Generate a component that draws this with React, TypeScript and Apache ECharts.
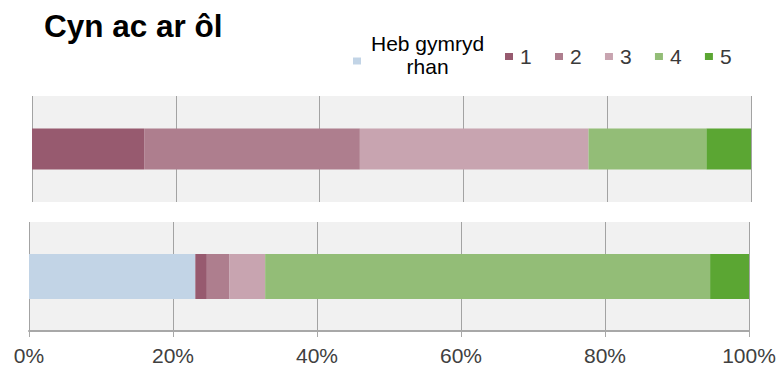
import React, { useEffect, useRef } from "react";
import * as echarts from "echarts";

// Survey levels: "did not take part" plus rating 1–5
const levels = ["Heb gymryd rhan", "1", "2", "3", "4", "5"];
// Two rows: before and after
const categories = ["Cyn", "Ar ôl"];
// Share of responses (%) per level
const beforeValues = [0, 15.6, 30.0, 31.8, 16.4, 6.2];
const afterValues = [23.1, 1.6, 3.1, 5.0, 61.8, 5.4];
// Percentage axis ticks
const tickValues = [0, 20, 40, 60, 80, 100];

const levelColors = ["#c2d4e6", "#975a6f", "#ae7e8e", "#c8a4b0", "#93bd77", "#5ba633"];

const FONT = '"Liberation Sans", Arial, sans-serif';

export default function App() {
  const ref = useRef<HTMLDivElement>(null);

  useEffect(() => {
    if (!ref.current) return;
    const chart = echarts.init(ref.current, undefined, { renderer: "svg" });

    const step = tickValues[1] - tickValues[0];
    const xMin = tickValues[0];
    const xMax = tickValues[tickValues.length - 1];
    const gridLine = { show: true, lineStyle: { color: "#a3a3a3", width: 1 } };

    const makeSeries = (values: number[], idx: number, barWidth: number) =>
      levels.map((name, i) => ({
        name,
        type: "bar",
        stack: "s" + idx,
        xAxisIndex: idx,
        yAxisIndex: idx,
        barWidth,
        itemStyle: { color: levelColors[i] },
        emphasis: { disabled: true },
        data: [values[i]],
      }));

    chart.setOption({
      animation: false,
      color: levelColors,
      title: {
        text: "Cyn ac ar ôl",
        left: 44,
        top: 10,
        padding: 0,
        textStyle: { fontFamily: FONT, fontSize: 31.5, fontWeight: "bold", color: "#000" },
      },
      legend: [
        {
          data: [levels[0]],
          left: 353,
          top: 32,
          padding: 0,
          icon: "rect",
          itemWidth: 8,
          itemHeight: 7,
          selectedMode: false,
          formatter: "{t|Heb gymryd}\n{t|rhan}",
          textStyle: {
            fontFamily: FONT,
            fontSize: 21,
            color: "#000",
            lineHeight: 23,
            padding: [0, 0, 12, 5],
            rich: { t: { align: "center", fontFamily: FONT, fontSize: 21, lineHeight: 23, color: "#000" } },
          },
        },
        {
          data: levels.slice(1),
          left: 505,
          top: 43,
          padding: 0,
          icon: "rect",
          itemWidth: 8,
          itemHeight: 7,
          itemGap: 23.3,
          selectedMode: false,
          textStyle: {
            fontFamily: FONT,
            fontSize: 21,
            color: "#3a3a3a",
            lineHeight: 23,
            padding: [4, 0, 0, 2],
          },
        },
      ],
      grid: [
        { left: 32, top: 96, width: 719, height: 106, show: true, backgroundColor: "#f1f1f1", borderWidth: 0 },
        { left: 29, top: 222, width: 720, height: 109, show: true, backgroundColor: "#f1f1f1", borderWidth: 0 },
      ],
      xAxis: [
        {
          type: "value",
          gridIndex: 0,
          min: xMin,
          max: xMax,
          interval: step,
          axisLabel: { show: false },
          axisLine: { show: false },
          axisTick: { show: false },
          splitLine: gridLine,
        },
        {
          type: "value",
          gridIndex: 1,
          min: xMin,
          max: xMax,
          interval: step,
          axisLabel: {
            formatter: "{value}%",
            fontFamily: FONT,
            fontSize: 21,
            color: "#404040",
            margin: 14,
          },
          axisLine: { show: true, lineStyle: { color: "#a8a8a8", width: 2 } },
          axisTick: { show: true, length: 6, lineStyle: { color: "#a8a8a8", width: 1 } },
          splitLine: gridLine,
        },
      ],
      yAxis: [
        { type: "category", gridIndex: 0, data: [categories[0]], show: false },
        { type: "category", gridIndex: 1, data: [categories[1]], show: false },
      ],
      series: [...makeSeries(beforeValues, 0, 41), ...makeSeries(afterValues, 1, 45)],
    });

    return () => chart.dispose();
  }, []);

  return (
    <div
      ref={ref}
      style={{ position: "fixed", left: 0, top: 0, width: 779, height: 367, background: "#fff" }}
    />
  );
}
